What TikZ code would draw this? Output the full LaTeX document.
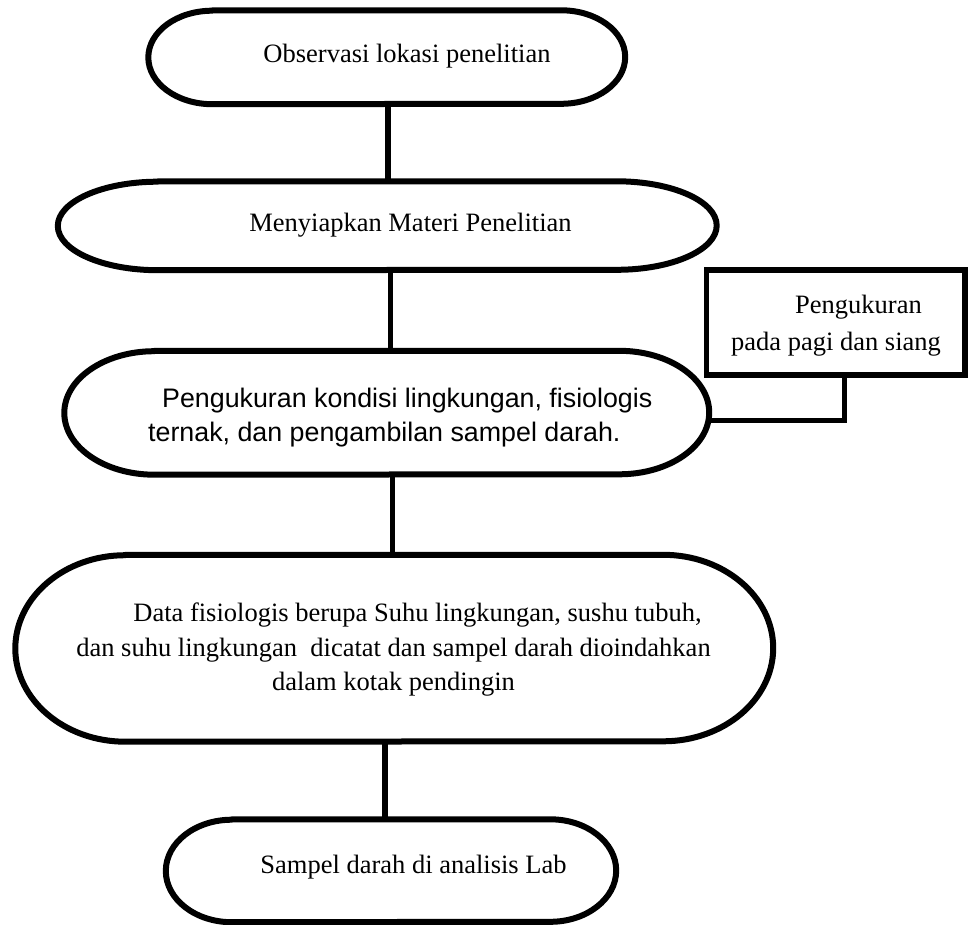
\documentclass[tikz,border=0pt]{standalone}
\usepackage{fontspec}
\setmainfont{Liberation Serif}
\newfontfamily\arialfont{Liberation Sans}
\tikzset{
  outline/.style={line width=6pt, line join=round},
  conn/.style={line width=5.5pt},
  shapebox/.style={rectangle, draw=none, inner sep=0pt},
  sidebox/.style={rectangle, draw, line width=5.5pt, inner sep=0pt},
  txt/.style={inner sep=0pt, anchor=base, font=\fontsize{26.5}{34.5}\selectfont},
}
\newcommand\pilloutline[3]{%
  \draw[outline] ([xshift=#2]#1.north west) -- ([xshift=-#2]#1.north east)
    arc[start angle=90, end angle=-90, x radius=#2, y radius=#3]
    -- ([xshift=#2]#1.south west)
    arc[start angle=270, end angle=90, x radius=#2, y radius=#3] -- cycle;}
\begin{document}
\begin{tikzpicture}[x=1pt,y=1pt]
\useasboundingbox (0,0) rectangle (969,-925);
% shapes
\node[shapebox, minimum width=476.5pt, minimum height=93.5pt] (n1) at (386.75,-57.25) {};
\node[shapebox, minimum width=658.5pt, minimum height=88.5pt] (n2) at (387.25,-225.75) {};
\node[shapebox, minimum width=644.5pt, minimum height=123.5pt] (n3) at (386.75,-412.75) {};
\node[shapebox, minimum width=757.5pt, minimum height=186.5pt] (n4) at (394.25,-648.25) {};
\node[shapebox, minimum width=450pt, minimum height=102.5pt] (n5) at (391,-870.75) {};
\node[sidebox, minimum width=258.5pt, minimum height=105pt] (nb) at (835.75,-322.5) {};
% connectors
\draw[conn] ([xshift=1.25]n1.south) -- ([xshift=1.25]n1.south |- n2.north);
\draw[conn] ([xshift=3.4]n2.south) -- ([xshift=3.4]n2.south |- n3.north);
\draw[conn] ([xshift=5.6]n3.south) -- ([xshift=5.6]n3.south |- n4.north);
\draw[conn] ([xshift=-6.2]n5.north) -- ([xshift=-6.2]n5.north |- n4.south);
\draw[conn] ([xshift=8.5]nb.south) |- ([yshift=-7.5]n3.east);
% outlines
\pilloutline{n1}{64}{46.75}
\pilloutline{n2}{100}{44.25}
\pilloutline{n3}{90}{61.75}
\pilloutline{n4}{110}{93.25}
\pilloutline{n5}{66}{51.25}
% texts
\node[txt] (t1) at (407,-62.7) {Observasi lokasi penelitian};
\node[txt] (t2) at (410.5,-231.5) {Menyiapkan Materi Penelitian};
\node[txt, anchor=base west, font=\arialfont\fontsize{26.8}{34.5}\selectfont] (t3) at (148,-407)
  {\begin{tabular}[t]{@{}l@{}}\hspace*{14pt}Pengukuran kondisi lingkungan, fisiologis\\ ternak, dan pengambilan sampel darah.\end{tabular}};
\node[txt] (t4) at (393.5,-621.5)
  {\begin{tabular}[t]{@{}c@{}}\hspace*{48pt}Data fisiologis berupa Suhu lingkungan, sushu tubuh,\\ dan suhu lingkungan~ dicatat dan sampel darah dioindahkan\\ dalam kotak pendingin\end{tabular}};
\node[txt] (t5) at (413.5,-873) {Sampel darah di analisis Lab};
\node[txt, font=\fontsize{26.5}{37}\selectfont] (tb) at (836,-313)
  {\begin{tabular}[t]{@{}c@{}}\hspace*{45pt}Pengukuran\\ pada pagi dan siang\end{tabular}};
\end{tikzpicture}
\end{document}
